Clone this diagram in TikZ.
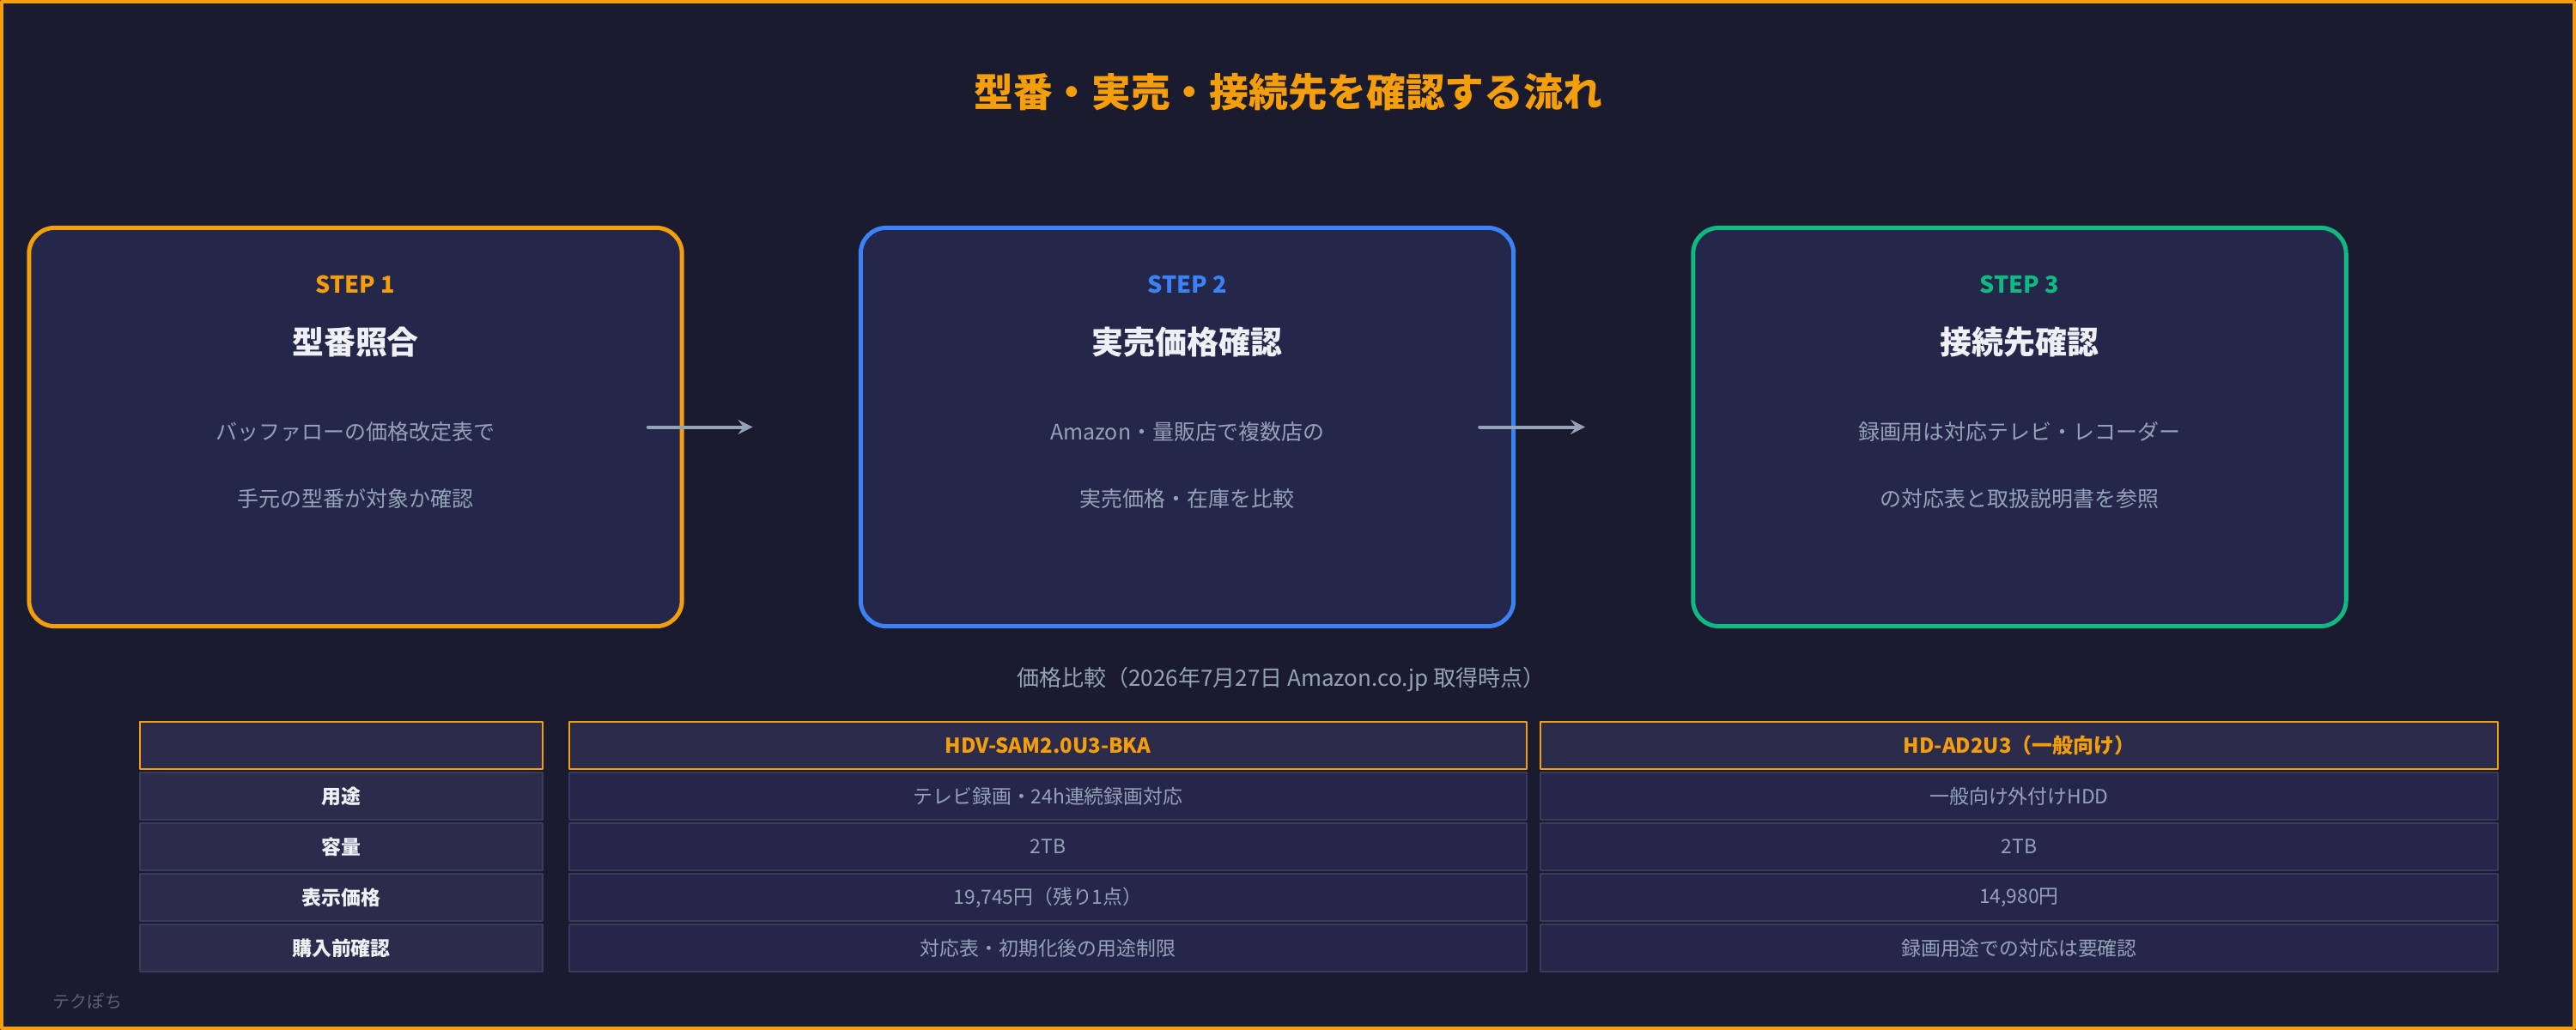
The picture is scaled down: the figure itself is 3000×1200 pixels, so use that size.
\documentclass[tikz,border=0pt]{standalone}
\usepackage{fontspec}
\setmainfont{Noto Sans CJK JP}
\usetikzlibrary{positioning}
\definecolor{bgc}{HTML}{1A1B2E}
\definecolor{cardc}{HTML}{24264A}
\definecolor{orangec}{HTML}{F59E0B}
\definecolor{bluec}{HTML}{3B82F6}
\definecolor{greenc}{HTML}{10B981}
\definecolor{whitec}{HTML}{EEF0F6}
\definecolor{grayc}{HTML}{94A3B8}
\definecolor{cellc}{HTML}{2B2C4B}
\definecolor{celld}{HTML}{25264A}
\definecolor{linec}{HTML}{383A5E}
\definecolor{footc}{HTML}{5C6078}

\begin{document}
\begin{tikzpicture}[x=0.01cm,y=-0.01cm,>=stealth, line join=round, line cap=round,
	card/.style={draw=#1, line width=0.05cm, fill=cardc, rounded corners=0.3cm, minimum width=7.6cm, minimum height=4.64cm, inner sep=0pt},
	steplbl/.style={text=#1, font=\fontsize{7.7}{9}\selectfont\bfseries, inner sep=0pt},
	headlbl/.style={text=whitec, font=\fontsize{10.5}{12}\selectfont\bfseries, inner sep=0pt},
	desc/.style={text=grayc, font=\fontsize{7.1}{8}\selectfont, inner sep=0pt},
	hcell/.style={draw=orangec, line width=0.025cm, fill=cellc, minimum width=#1, minimum height=0.545cm, inner sep=0pt, text=orangec, font=\fontsize{6.8}{8}\selectfont\bfseries},
	kcell/.style={draw=linec, line width=0.02cm, fill=cellc, minimum width=4.69cm, minimum height=0.55cm, inner sep=0pt, text=whitec, font=\fontsize{6.5}{8}\selectfont\bfseries},
	vcell/.style={draw=linec, line width=0.02cm, fill=celld, minimum width=11.15cm, minimum height=0.55cm, inner sep=0pt, text=grayc, font=\fontsize{6.5}{8}\selectfont}]
	% background and frame
	\fill[bgc] (0,0) rectangle (3000,1200);
	\draw[orangec, line width=0.04cm] (2,2) rectangle (2998,1198);
	\node[text=orangec, font=\fontsize{13}{15}\selectfont\bfseries] (title) at (1500,107) {型番・実売・接続先を確認する流れ};
	% steps
	\node[card=orangec] (b1) at (414,497.5) {};
	\node[card=bluec] (b2) at (1382.5,497.5) {};
	\node[card=greenc] (b3) at (2352,497.5) {};
	\node[steplbl=orangec] (b1s) at (414,331) {STEP 1};
	\node[headlbl] (b1h) at (414,399) {型番照合};
	\node[desc] (b1a) at (414,503) {バッファローの価格改定表で};
	\node[desc] (b1b) at (414,581) {手元の型番が対象か確認};
	\node[steplbl=bluec] (b2s) at (1382.5,331) {STEP 2};
	\node[headlbl] (b2h) at (1382.5,399) {実売価格確認};
	\node[desc] (b2a) at (1382.5,503) {Amazon・量販店で複数店の};
	\node[desc] (b2b) at (1382.5,581) {実売価格・在庫を比較};
	\node[steplbl=greenc] (b3s) at (2352,331) {STEP 3};
	\node[headlbl] (b3h) at (2352,399) {接続先確認};
	\node[desc] (b3a) at (2352,503) {録画用は対応テレビ・レコーダー};
	\node[desc] (b3b) at (2352,581) {の対応表と取扱説明書を参照};
	\draw[->, grayc, line width=0.04cm] ([xshift=-0.42cm]b1.east) -- ([xshift=-1.23cm]b2.west);
	\draw[->, grayc, line width=0.04cm] ([xshift=-0.42cm]b2.east) -- ([xshift=-1.23cm]b3.west);
	% table
	\node[text=grayc, font=\fontsize{7.4}{9}\selectfont] (ttl) at (1492,792) {価格比較（2026年7月27日 Amazon.co.jp 取得時点）};
	\node[hcell=4.685cm] (h0) at (397.5,868.5) {};
	\node[hcell=11.145cm] (h1) at (1220.5,868.5) {HDV-SAM2.0U3-BKA};
	\node[hcell=11.145cm] (h2) at (2351.5,868.5) {HD-AD2U3（一般向け）};
	\node[kcell] (k1) at (397.5,927.5) {用途};
	\node[vcell] (v11) at (1220.5,927.5) {テレビ録画・24h連続録画対応};
	\node[vcell] (v21) at (2351.5,927.5) {一般向け外付けHDD};
	\node[kcell] (k2) at (397.5,986.5) {容量};
	\node[vcell] (v12) at (1220.5,986.5) {2TB};
	\node[vcell] (v22) at (2351.5,986.5) {2TB};
	\node[kcell] (k3) at (397.5,1045.5) {表示価格};
	\node[vcell] (v13) at (1220.5,1045.5) {19,745円（残り1点）};
	\node[vcell] (v23) at (2351.5,1045.5) {14,980円};
	\node[kcell] (k4) at (397.5,1104.5) {購入前確認};
	\node[vcell] (v14) at (1220.5,1104.5) {対応表・初期化後の用途制限};
	\node[vcell] (v24) at (2351.5,1104.5) {録画用途での対応は要確認};
	\node[text=footc, font=\fontsize{5.7}{7}\selectfont] (foot) at (102,1167) {テクぽち};
\end{tikzpicture}
\end{document}
